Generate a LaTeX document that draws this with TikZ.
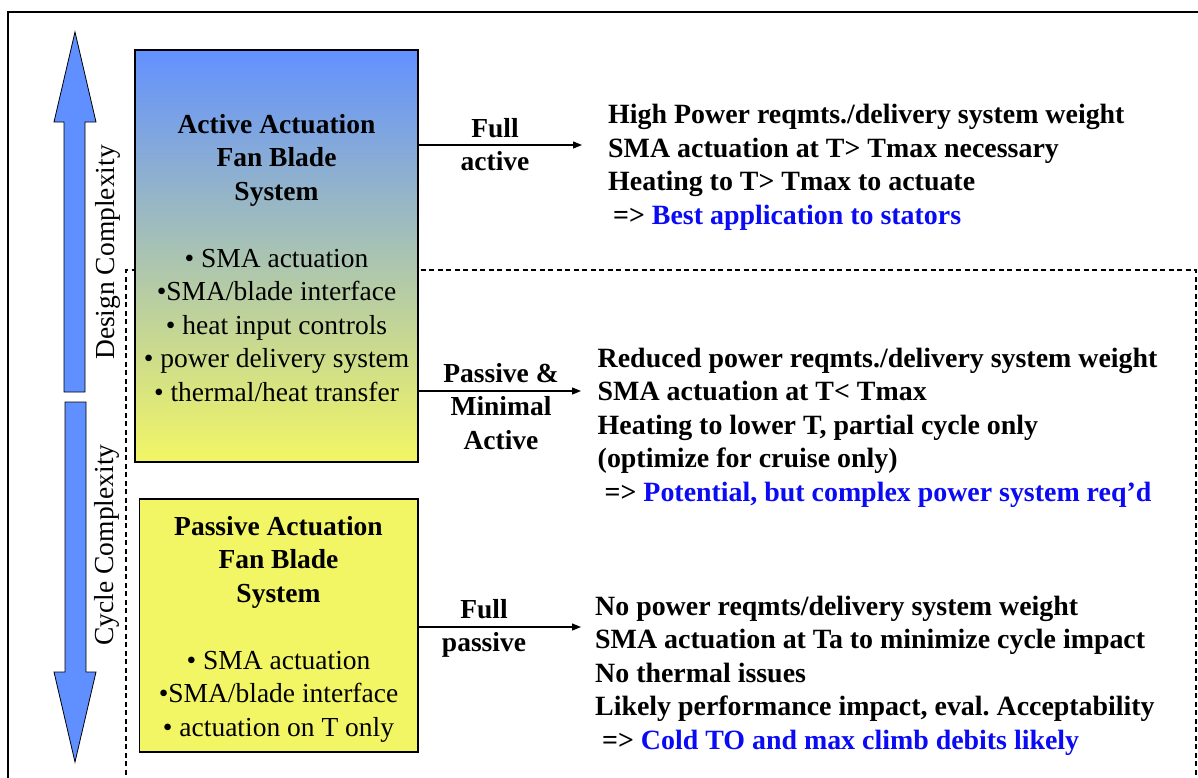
\documentclass[tikz,border=0pt]{standalone}
\usepackage{fontspec}
\setmainfont{Liberation Serif}
\usetikzlibrary{arrows.meta}
\definecolor{arrowblue}{RGB}{96,144,255}
\definecolor{boxtop}{RGB}{98,145,255}
\definecolor{boxyellow}{RGB}{242,246,100}
\definecolor{linkblue}{RGB}{10,10,245}
\frenchspacing
\begin{document}
\begin{tikzpicture}[x=1pt,y=-1pt,
  bigfont/.style={font=\fontsize{27.5}{33.5}\selectfont},
  descfont/.style={font=\fontsize{27.9}{33.5}\selectfont},
  boxtxt/.style={bigfont, inner sep=0pt, anchor=base},
  desc/.style={descfont, inner sep=0pt, anchor=base west},
  lbl/.style={bigfont, inner sep=0pt, anchor=base},
  sidelbl/.style={bigfont, inner sep=0pt, anchor=base, rotate=90},
  bigarrow/.style={fill=arrowblue, draw=black, line width=0.8pt, line join=miter},
  conn/.style={draw=black, line width=1.3pt, -{Triangle[length=9pt,width=7pt]}},
  boxframe/.style={draw=black, line width=1.3pt, inner sep=0pt}]
\useasboundingbox (0,0) rectangle (1198,777);
\fill[white] (0,0) rectangle (1198,777);
\begin{scope}
  \clip (0,0) rectangle (1198,777);
  \draw[line width=1.6pt] (8,12) rectangle (1230,800);
  \draw[line width=1.9pt, dash pattern=on 5pt off 3.5pt] (126,800) -- (126,270) -- (1196,270) -- (1196,800);
\end{scope}
% vertical complexity arrows
\draw[bigarrow] (75,32) -- (96,122) -- (85,122) -- (85,392) -- (64,392) -- (64,122) -- (54,122) -- cycle;
\draw[bigarrow] (65,402) -- (86,402) -- (86,672) -- (96,672) -- (75,762) -- (54,672) -- (65,672) -- cycle;
\node[sidelbl] (design) at (114,252.5) {Design Complexity};
\node[sidelbl] (cycle) at (113,545) {Cycle Complexity};
% boxes
\node[boxframe, top color=boxtop, bottom color=boxyellow, minimum width=283pt, minimum height=412pt] (active) at (276.5,256) {};
\node[boxframe, fill=boxyellow, minimum width=278.5pt, minimum height=253pt] (passive) at (278.75,625.5) {};
\node[boxtxt] (activetxt) at (276.5,133) {\begin{tabular}[t]{@{}c@{}}\textbf{Active Actuation}\\ \textbf{Fan Blade}\\ \textbf{System}\\ \\ • SMA actuation\\ •SMA/blade interface\\ • heat input controls\\ • power delivery system\\ • thermal/heat transfer\end{tabular}};
\node[boxtxt] (passivetxt) at (278.5,535) {\begin{tabular}[t]{@{}c@{}}\textbf{Passive Actuation}\\ \textbf{Fan Blade}\\ \textbf{System}\\ \\ • SMA actuation\\ •SMA/blade interface\\ • actuation on T only\end{tabular}};
% descriptions
\node[desc] (d1) at (608,123.5) {\bfseries\begin{tabular}[t]{@{}l@{}}High Power reqmts./delivery system weight\\ SMA actuation at T> Tmax necessary\\ Heating to T> Tmax to actuate\\ \hspace*{5pt}=> \textcolor{linkblue}{Best application to stators}\end{tabular}};
\node[desc] (d2) at (597.5,367) {\bfseries\begin{tabular}[t]{@{}l@{}}Reduced power reqmts./delivery system weight\\ SMA actuation at T< Tmax\\ Heating to lower T, partial cycle only\\ (optimize for cruise only)\\ \hspace*{7pt}=> \textcolor{linkblue}{Potential, but complex power system req’d}\end{tabular}};
\node[desc] (d3) at (595,615) {\bfseries\begin{tabular}[t]{@{}l@{}}No power reqmts/delivery system weight\\ SMA actuation at Ta to minimize cycle impact\\ No thermal issues\\ Likely performance impact, eval. Acceptability\\ \hspace*{7pt}=> \textcolor{linkblue}{Cold TO and max climb debits likely}\end{tabular}};
% connectors
\coordinate (e1) at (582,145);
\coordinate (e2) at (581,391);
\coordinate (e3) at (581,627);
\draw[conn] (active.east |- e1) -- (e1);
\draw[conn] (active.east |- e2) -- (e2);
\draw[conn] (passive.east |- e3) -- (e3);
\node[lbl] (l1) at (495,137) {\bfseries\begin{tabular}[t]{@{}c@{}}Full\\ active\end{tabular}};
\node[lbl] (l2) at (501,382) {\bfseries\begin{tabular}[t]{@{}c@{}}Passive \&\\ Minimal\\ Active\end{tabular}};
\node[lbl] (l3) at (484,618) {\bfseries\begin{tabular}[t]{@{}c@{}}Full\\ passive\end{tabular}};
\end{tikzpicture}
\end{document}
